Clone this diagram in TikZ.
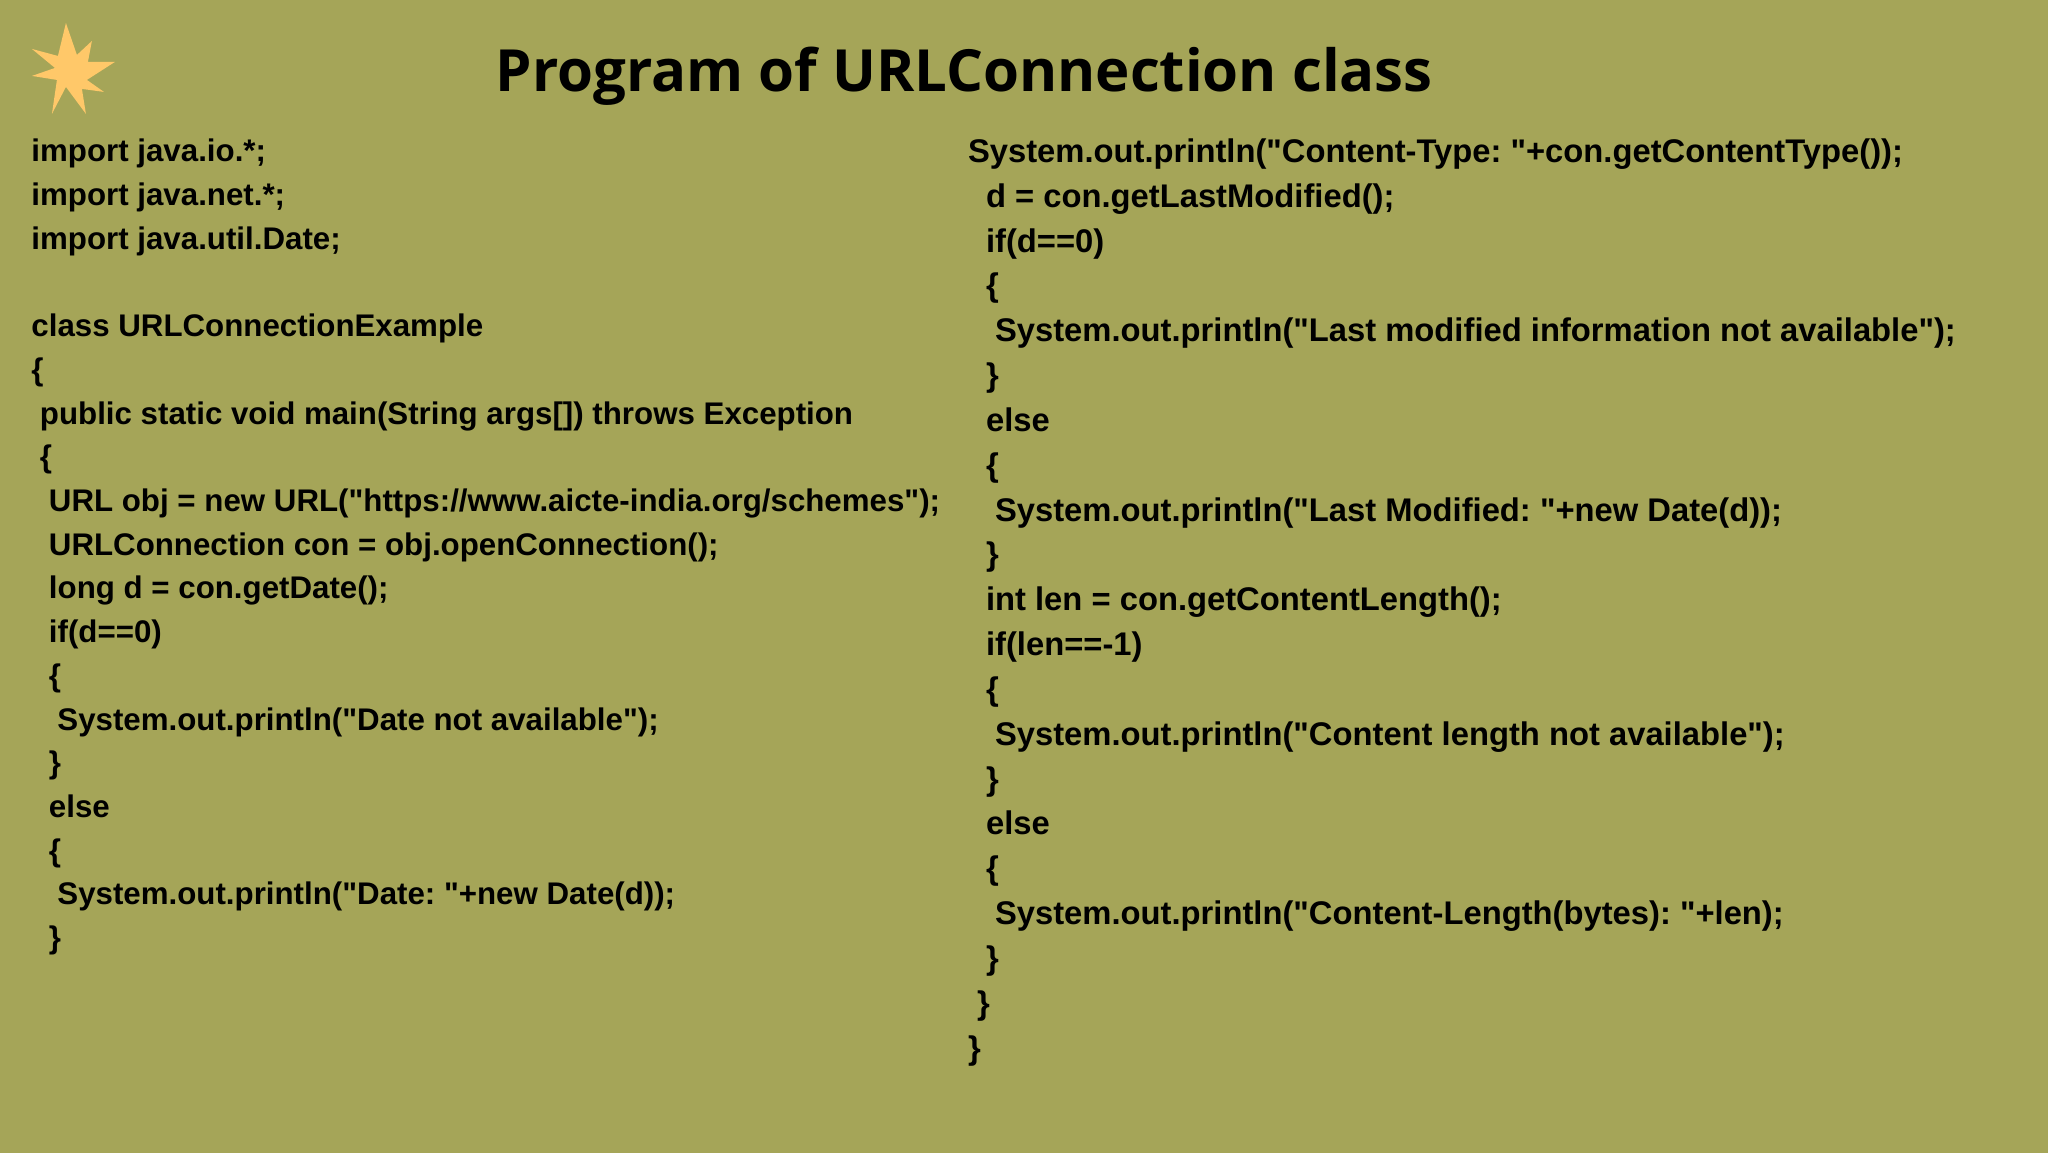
\documentclass[tikz,border=0pt]{standalone}
\usepackage{fontspec}
\newfontfamily\codefont{Liberation Sans}
\newfontfamily\titlefont{Open Sans}
\definecolor{bgolive}{HTML}{A5A558}
\definecolor{starfill}{HTML}{FFC869}
\tikzset{
  code/.style={anchor=base west,inner sep=0pt,outer sep=0pt,text=black,font=\frenchspacing\codefont\fontsize{31.3}{36}\selectfont\bfseries},
  coder/.style={code,font=\frenchspacing\codefont\fontsize{32.78}{36}\selectfont\bfseries},
  heading/.style={anchor=base west,inner sep=0pt,outer sep=0pt,text=black,font=\titlefont\fontsize{58.2}{64}\selectfont\bfseries}
}
\begin{document}
\begin{tikzpicture}[x=1pt,y=-1pt]
\fill[bgolive] (-1,-1) rectangle (2049,1153);
\useasboundingbox (0,0) rectangle (2048,1152);
\fill[starfill] (65,22)--(76,54)--(91,40)--(87,61)--(114,61)--(86,79)--(103,91)--(81,88)--(85,113)--(65,86)--(51,113)--(56,79)--(31,75)--(54,67)--(31,48)--(57,55)--cycle;
\node[heading] (title) at (495,91) {Program of URLConnection class};
% left column
\node[code] (a0) at (30.5,161) {import java.io.*;};
\node[code] (a1) at (30.5,204.75) {import java.net.*;};
\node[code] (a2) at (30.5,248.5) {import java.util.Date;};
\node[code] (a4) at (30.5,336) {class URLConnectionExample};
\node[code] (a5) at (30.5,379.75) {\{};
\node[code] (a6) at (39,423.5) {public static void main(String args[]) throws Exception};
\node[code] (a7) at (39,467.25) {\{};
\node[code] (a8) at (48,511) {URL obj = new URL("https://www.aicte-india.org/schemes");};
\node[code] (a9) at (48,554.75) {URLConnection con = obj.openConnection();};
\node[code] (a10) at (48,598.5) {long d = con.getDate();};
\node[code] (a11) at (48,642.25) {if(d==0)};
\node[code] (a12) at (48,686) {\{};
\node[code] (a13) at (56.5,729.75) {System.out.println("Date not available");};
\node[code] (a14) at (48,773.5) {\}};
\node[code] (a15) at (48,817.25) {else};
\node[code] (a16) at (48,861) {\{};
\node[code] (a17) at (56.5,904.75) {System.out.println("Date: "+new Date(d));};
\node[code] (a18) at (48,948.5) {\}};
% right column
\node[coder] (b0) at (968,161.6) {System.out.println("Content-Type: "+con.getContentType());};
\node[coder] (b1) at (986,206.5) {d = con.getLastModified();};
\node[coder] (b2) at (986,251.4) {if(d==0)};
\node[coder] (b3) at (986,296.2) {\{};
\node[coder] (b4) at (995,341.1) {System.out.println("Last modified information not available");};
\node[coder] (b5) at (986,386) {\}};
\node[coder] (b6) at (986,430.9) {else};
\node[coder] (b7) at (986,475.8) {\{};
\node[coder] (b8) at (995,520.6) {System.out.println("Last Modified: "+new Date(d));};
\node[coder] (b9) at (986,565.5) {\}};
\node[coder] (b10) at (986,610.4) {int len = con.getContentLength();};
\node[coder] (b11) at (986,655.3) {if(len==-1)};
\node[coder] (b12) at (986,700.2) {\{};
\node[coder] (b13) at (995,745) {System.out.println("Content length not available");};
\node[coder] (b14) at (986,789.9) {\}};
\node[coder] (b15) at (986,834.8) {else};
\node[coder] (b16) at (986,879.7) {\{};
\node[coder] (b17) at (995,924.6) {System.out.println("Content-Length(bytes): "+len);};
\node[coder] (b18) at (986,969.4) {\}};
\node[coder] (b19) at (977,1014.3) {\}};
\node[coder] (b20) at (968,1059.2) {\}};
\end{tikzpicture}
\end{document}
